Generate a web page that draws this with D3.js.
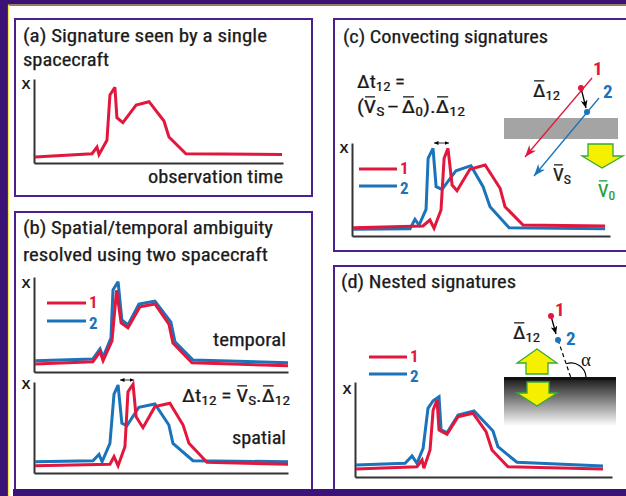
<!DOCTYPE html>
<html><head><meta charset="utf-8">
<script src="https://cdn.jsdelivr.net/npm/d3@7"></script>
<style>html,body{margin:0;padding:0;background:#3b1275;} svg{display:block}</style>
</head><body>
<script>
// ---------- data: [time (0-100), signal X (0-10)] ----------
const aRed = [[0.4,0.7],[23.3,1.1],[25.3,1.9],[26.1,1.0],[29.3,2.7],[30.5,8.1],[32.5,9.0],[33.3,5.4],[35.7,4.8],[41,6.9],[46.2,7.3],[52.2,5.0],[54.2,3.1],[61,1.1],[99.6,1.0]];
const bTempRed = [[0.4,0.84],[23.2,1.08],[26.0,2.14],[27.2,1.19],[30.7,3.29],[32.5,8.6],[34.3,5.16],[37.0,4.66],[41.7,6.87],[47.6,7.16],[53.1,5.05],[54.7,3.05],[62.2,0.98],[100,0.66]];
const bTempBlue = [[0.4,1.19],[23.2,1.37],[26.0,2.42],[27.2,1.58],[30.3,3.58],[31.1,8.63],[33.1,9.5],[34.6,5.47],[37.0,4.95],[41.3,7.16],[47.6,7.47],[53.9,5.26],[55.5,3.19],[62.6,1.26],[100,0.98]];
const bSpatRed = [[0.4,0.8],[29.9,0.96],[31.5,1.79],[33.1,0.8],[35.8,2.89],[37.0,8.93],[39.0,9.75],[40.2,6.19],[42.9,4.98],[47.6,7.29],[53.5,7.66],[58.7,5.27],[61.0,3.26],[68.1,1.19],[100,0.96]];
const bSpatBlue = [[0.4,1.24],[23.2,1.35],[25.6,2.05],[26.8,1.24],[29.9,3.26],[31.5,8.68],[33.1,9.67],[34.6,5.46],[36.6,5.2],[41.3,7.22],[47.6,7.58],[53.1,5.27],[54.7,3.26],[62.6,1.35],[100,1.24]];
const cRed = [[0.4,0.89],[27.5,1.08],[30.2,1.72],[31.8,0.83],[34.5,2.8],[35.7,8.35],[37.2,9.43],[38.8,5.48],[40.7,4.86],[45.7,7.17],[51.6,7.63],[57.4,5.13],[59.3,3.15],[66.3,1.18],[98.1,1.08]];
const cBlue = [[0.4,0.72],[22.5,0.78],[24.4,1.8],[26.0,1.18],[28.7,2.87],[29.5,8.35],[31.4,9.43],[32.6,5.3],[34.9,5.02],[40.3,7.02],[46.1,7.56],[50.8,5.3],[53.5,3.15],[60.9,0.89],[98.1,0.78]];
const dRed = [[0.4,0.84],[24.1,1.08],[26.1,1.79],[26.8,0.92],[29.2,2.84],[30.4,7.05],[31.9,8.11],[32.7,4.95],[35.8,4.49],[40.1,6.35],[45.9,6.71],[51.0,4.77],[53.3,2.84],[59.5,1.08],[96.5,0.84]];
const dBlue = [[0.4,1.26],[19.5,1.44],[22.2,2.21],[24.1,1.44],[26.5,3.02],[28.4,7.23],[30.4,8.03],[32.7,8.45],[33.5,4.95],[35.8,4.66],[40.1,6.53],[46.3,6.95],[53.7,4.84],[55.6,3.19],[63.0,1.55],[96.5,1.16]];
const legendLabels = ["1","2"];
const titles = {
  a: ["(a) Signature seen by a single","spacecraft"],
  b: ["(b) Spatial/temporal ambiguity","resolved using two spacecraft"],
  c: ["(c) Convecting signatures"],
  d: ["(d) Nested signatures"]
};

// ---------- styles ----------
const FONT = "'Liberation Sans Narrow','Roboto Condensed','Arial Narrow','Roboto','Liberation Sans',sans-serif";
const RED = "#e2173d", BLUE = "#1b73ba", INK = "#1a1a1a", PURPLE = "#4a1f8e";
const W = 626, H = 496;

const svg = d3.select("body").append("svg").attr("width", W).attr("height", H);
const defs = svg.append("defs");

// background frame
svg.append("rect").attr("width", W).attr("height", H).attr("fill", "#3b1275");
svg.append("rect").attr("x", 9).attr("y", 6).attr("width", W - 9).attr("height", H - 6).attr("fill", "#fff");
svg.append("line").attr("x1", 8.5).attr("x2", 8.5).attr("y1", 5).attr("y2", H).attr("stroke", "#f3e84a").attr("stroke-width", 1.2);
svg.append("line").attr("x1", 8).attr("x2", W).attr("y1", 5).attr("y2", 5).attr("stroke", "#f3e84a").attr("stroke-width", 1.2);

// panels
const panels = [
  {x: 15, y: 19, w: 297, h: 177},
  {x: 15, y: 212, w: 297, h: 290},
  {x: 334, y: 19, w: 300, h: 232},
  {x: 334, y: 266, w: 300, h: 240}
];
panels.forEach(p => svg.append("rect").attr("x", p.x).attr("y", p.y).attr("width", p.w).attr("height", p.h)
  .attr("fill", "none").attr("stroke", PURPLE).attr("stroke-width", 2));
svg.append("rect").attr("x", 13).attr("y", 489).attr("width", W - 13).attr("height", 7).attr("fill", "#3b1275");

function txt(x, y, s, o = {}) {
  const t = svg.append("text").attr("x", x).attr("y", y).text(s)
    .attr("font-family", o.family || FONT).attr("font-size", o.size || 18)
    .attr("fill", o.color || INK).attr("font-weight", o.weight || "normal")
    .attr("text-anchor", o.anchor || "start");
  if (o.len) t.attr("textLength", o.len).attr("lengthAdjust", "spacingAndGlyphs");
  if (o.stroke) t.attr("stroke", o.color || INK).attr("stroke-width", o.stroke);
  return t;
}

// titles
txt(23, 42, titles.a[0], {len: 244, stroke: 0.25});
txt(23, 66, titles.a[1], {len: 86, stroke: 0.25});
txt(23, 234, titles.b[0], {len: 250, stroke: 0.25});
txt(23, 261, titles.b[1], {len: 245, stroke: 0.25});
txt(343, 43, titles.c[0], {len: 205, stroke: 0.25});
txt(341, 288, titles.d[0], {len: 175, stroke: 0.25});

// chart helper
function chart(cfg) {
  const x = d3.scaleLinear().domain([0, 100]).range([cfg.x0, cfg.x1]);
  const y = d3.scaleLinear().domain([0, 10]).range([cfg.y0, cfg.y1]);
  const g = svg.append("g");
  const ax = g.append("g").attr("transform", `translate(0,${cfg.y0})`).call(d3.axisBottom(x).tickValues([]).tickSizeOuter(0));
  const ay = g.append("g").attr("transform", `translate(${cfg.x0},0)`).call(d3.axisLeft(y).tickValues([]).tickSizeOuter(0));
  [ax, ay].forEach(a => a.select(".domain").attr("stroke", "#333").attr("stroke-width", 2));
  const line = d3.line().x(d => x(d[0])).y(d => y(d[1]));
  cfg.series.forEach(s => {
    g.append("path").datum(s.data).attr("d", line).attr("fill", "none").attr("stroke", s.color)
      .attr("stroke-width", 3).attr("stroke-linejoin", "miter").attr("stroke-miterlimit", 3);
  });
  txt(cfg.x0 - 12.5, cfg.labelY, "X", {size: 13.5, weight: "bold", family: "'Liberation Sans',sans-serif"});
  return {x, y};
}

chart({x0: 34, x1: 283, y0: 163, y1: 79, labelY: 89, series: [{data: aRed, color: RED}]});
chart({x0: 34, x1: 288, y0: 372, y1: 277, labelY: 288, series: [{data: bTempBlue, color: BLUE}, {data: bTempRed, color: RED}]});
chart({x0: 34, x1: 288, y0: 473, y1: 382, labelY: 389, series: [{data: bSpatBlue, color: BLUE}, {data: bSpatRed, color: RED}]});
chart({x0: 352, x1: 610, y0: 236, y1: 143, labelY: 153, series: [{data: cBlue, color: BLUE}, {data: cRed, color: RED}]});
chart({x0: 355, x1: 612, y0: 477, y1: 382, labelY: 394, series: [{data: dBlue, color: BLUE}, {data: dRed, color: RED}]});

txt(283, 183, "observation time", {anchor: "end", len: 135, stroke: 0.25});
txt(286, 346, "temporal", {anchor: "end", len: 73, stroke: 0.25});
txt(286, 444, "spatial", {anchor: "end", len: 54, stroke: 0.25});

// legends
function legend(x1, x2, yr, yb) {
  [[yr, RED, 5], [yb, BLUE, 8]].forEach((d, i) => {
    svg.append("line").attr("x1", x1).attr("x2", x2).attr("y1", d[0]).attr("y2", d[0]).attr("stroke", d[1]).attr("stroke-width", 3);
    txt(x2 + 3, d[0] + d[2], legendLabels[i], {size: 17, color: d[1], weight: "bold"});
  });
}
legend(47, 86, 303, 321);
legend(359, 397, 169, 186);
legend(369, 407, 357, 374);

// markers
function marker(id, color, len, wid, barbed) {
  defs.append("marker").attr("id", id).attr("markerUnits", "userSpaceOnUse")
    .attr("viewBox", `0 0 ${len} ${wid}`).attr("refX", len).attr("refY", wid / 2)
    .attr("markerWidth", len).attr("markerHeight", wid).attr("orient", "auto-start-reverse")
    .append("path").attr("d", barbed ? `M0,0 L${len},${wid/2} L0,${wid} L${len*0.3},${wid/2} Z` : `M0,0 L${len},${wid/2} L0,${wid} Z`)
    .attr("fill", color);
}
marker("mr", RED, 12, 9, true);
marker("mb", BLUE, 12, 9, true);
marker("mk", "#000", 4.5, 4, false);
marker("mk2", "#000", 8, 7, true);

// double arrows
function dbl(x1, x2, y) {
  svg.append("line").attr("x1", x1).attr("x2", x2).attr("y1", y).attr("y2", y).attr("stroke", "#000").attr("stroke-width", 0.8)
    .attr("marker-start", "url(#mk)").attr("marker-end", "url(#mk)");
}
dbl(120, 134, 380);
dbl(434, 449, 143);

// formula helper
function formula(x, y, parts, o = {}) {
  const size = o.size || 18, sub = o.sub || 13, color = o.color || INK;
  const grp = svg.append("g");
  let cx = x;
  parts.forEach(p => {
    if (p.gap) { cx += p.gap; return; }
    const fs = p.sub ? sub : size;
    const t = grp.append("text").attr("x", cx).attr("y", y + (p.sub ? 3 : 0)).attr("font-size", fs)
      .attr("fill", color).attr("font-family", FONT).attr("stroke", color).attr("stroke-width", 0.25).text(p.t);
    const w = t.node().getComputedTextLength();
    if (p.bar) {
      const by = y - size * 0.73 - 3;
      grp.append("line").attr("x1", cx + 1).attr("x2", cx + w - 1).attr("y1", by).attr("y2", by)
        .attr("stroke", color).attr("stroke-width", 1.3);
    }
    cx += w;
  });
  if (o.width) {
    const s = o.width / (cx - x);
    grp.attr("transform", `translate(${x},0) scale(${s},1) translate(${-x},0)`);
  }
}
formula(182, 402, [{t: "Δt"}, {t: "12", sub: 1}, {gap: 4}, {t: "="}, {gap: 4}, {t: "V", bar: 1}, {t: "S", sub: 1}, {t: "."}, {t: "Δ", bar: 1}, {t: "12", sub: 1}], {width: 108});
formula(357, 88, [{t: "Δt"}, {t: "12", sub: 1}, {gap: 4}, {t: "="}], {width: 48});
formula(357, 113, [{t: "("}, {t: "V", bar: 1}, {t: "S", sub: 1}, {gap: 2}, {t: "–"}, {gap: 2}, {t: "Δ", bar: 1}, {t: "0", sub: 1}, {t: ")."}, {t: "Δ", bar: 1}, {t: "12", sub: 1}], {width: 108});

// ---- diagram (c) ----
svg.append("rect").attr("x", 504).attr("y", 118).attr("width", 114).attr("height", 21).attr("fill", "#a4a4a4");
svg.append("line").attr("x1", 592).attr("y1", 78).attr("x2", 525).attr("y2", 157).attr("stroke", RED).attr("stroke-width", 1.3).attr("marker-end", "url(#mr)");
svg.append("line").attr("x1", 599).attr("y1", 98).attr("x2", 534).attr("y2", 176).attr("stroke", BLUE).attr("stroke-width", 1.3).attr("marker-end", "url(#mb)");
svg.append("line").attr("x1", 581).attr("y1", 88).attr("x2", 586).attr("y2", 108).attr("stroke", "#000").attr("stroke-width", 1.3).attr("marker-end", "url(#mk2)");
svg.append("circle").attr("cx", 581).attr("cy", 88).attr("r", 3).attr("fill", RED);
svg.append("circle").attr("cx", 587).attr("cy", 112).attr("r", 3).attr("fill", BLUE);
txt(593, 75, "1", {size: 19, color: RED, weight: "bold"});
txt(603, 98, "2", {size: 19, color: BLUE, weight: "bold"});
formula(533, 97, [{t: "Δ", bar: 1}, {t: "12", sub: 1}], {width: 27});
formula(553, 181, [{t: "V", bar: 1}, {t: "S", sub: 1}], {width: 18});
formula(598, 197, [{t: "V", bar: 1}, {t: "0", sub: 1}], {width: 17, color: "#1e9a3a"});
const YEL = "#f4f000", GRN = "#37a935";
svg.append("polygon").attr("points", "588,144 613,144 613,156 623,156 602,168 582,156 588,156")
  .attr("fill", YEL).attr("stroke", GRN).attr("stroke-width", 1.3);

// ---- diagram (d) ----
const grad = defs.append("linearGradient").attr("id", "gd").attr("x1", 0).attr("x2", 0).attr("y1", 0).attr("y2", 1);
grad.append("stop").attr("offset", 0).attr("stop-color", "#151515");
grad.append("stop").attr("offset", 0.08).attr("stop-color", "#2a2a2a");
grad.append("stop").attr("offset", 1).attr("stop-color", "#ffffff");
svg.append("rect").attr("x", 504).attr("y", 378).attr("width", 112).attr("height", 48).attr("fill", "url(#gd)");
svg.append("rect").attr("x", 504).attr("y", 377).attr("width", 112).attr("height", 3).attr("fill", "#111");
svg.append("polygon").attr("points", "537,349 557,363 548,363 548,374 526,374 526,363 517,363")
  .attr("fill", YEL).attr("stroke", GRN).attr("stroke-width", 1.3);
svg.append("polygon").attr("points", "527,382 549,382 549,393 557,393 537,406 517,393 527,393")
  .attr("fill", YEL).attr("stroke", GRN).attr("stroke-width", 1.3);
svg.append("line").attr("x1", 558).attr("y1", 340).attr("x2", 571).attr("y2", 378).attr("stroke", "#000").attr("stroke-width", 1.2).attr("stroke-dasharray", "4,3");
svg.append("line").attr("x1", 551).attr("y1", 316).attr("x2", 556).attr("y2", 334).attr("stroke", "#000").attr("stroke-width", 1.3).attr("marker-end", "url(#mk2)");
svg.append("circle").attr("cx", 551).attr("cy", 316).attr("r", 3).attr("fill", RED);
svg.append("circle").attr("cx", 558).attr("cy", 340).attr("r", 3).attr("fill", BLUE);
svg.append("path").attr("d", "M566.2,363.8 A15,15 0 0 1 586,377").attr("fill", "none").attr("stroke", "#000").attr("stroke-width", 1.2);
txt(555, 316, "1", {size: 19, color: RED, weight: "bold"});
txt(566, 345, "2", {size: 19, color: BLUE, weight: "bold"});
txt(581, 366, "α", {size: 19, family: "'Liberation Serif',serif"});
formula(513, 339, [{t: "Δ", bar: 1}, {t: "12", sub: 1}], {width: 27});
</script>
</body></html>
